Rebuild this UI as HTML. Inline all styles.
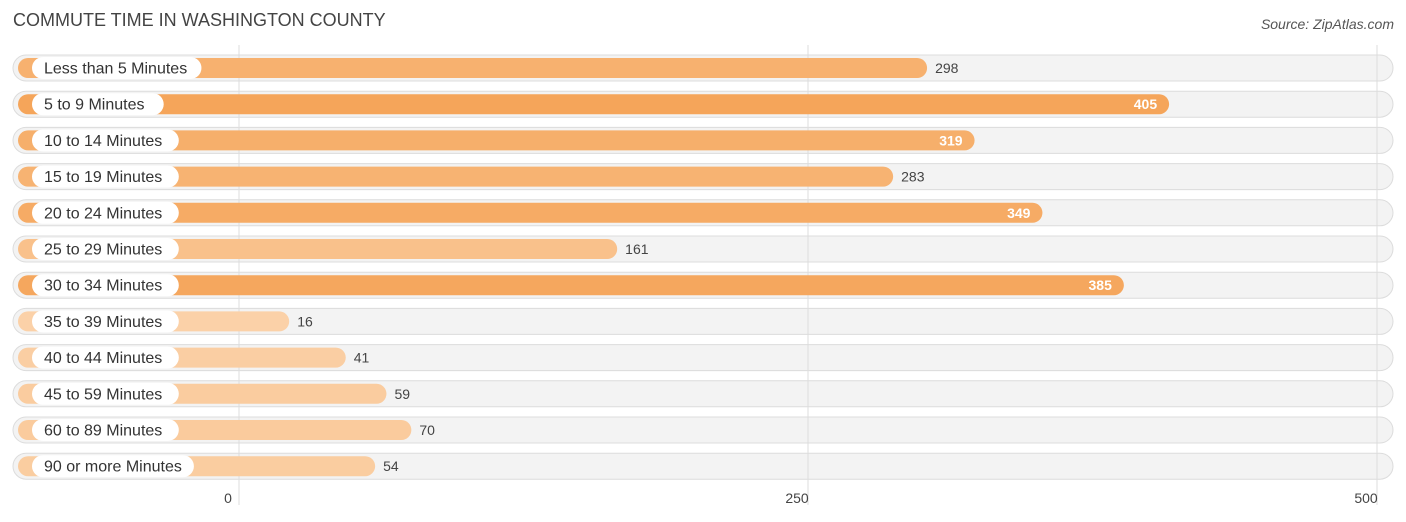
<!DOCTYPE html>
<html><head><meta charset="utf-8"><style>
body{margin:0;width:1406px;height:522px;background:#fff;font-family:"Liberation Sans",sans-serif;overflow:hidden;position:relative}
.t{position:absolute;left:13px;top:10px;font-size:18px;color:#444}
.s{position:absolute;right:12px;top:16px;font-size:14px;font-style:italic;color:#555}
</style></head><body>
<div class="t">COMMUTE TIME IN WASHINGTON COUNTY</div>
<div class="s">Source: ZipAtlas.com</div>
<svg id="c" width="1406" height="522" style="position:absolute;left:0;top:0"></svg>
<script>
const categories=["Less than 5 Minutes","5 to 9 Minutes","10 to 14 Minutes","15 to 19 Minutes","20 to 24 Minutes","25 to 29 Minutes","30 to 34 Minutes","35 to 39 Minutes","40 to 44 Minutes","45 to 59 Minutes","60 to 89 Minutes","90 or more Minutes"];
const values=[298,405,319,283,349,161,385,16,41,59,70,54];
const ticks=[0,250,500];
const tickLabels=["0","250","500"];
const NS="http://www.w3.org/2000/svg";
const svg=document.getElementById('c');
function gx(v){return 239+v*2.276;}
function bx(v){return 253+v*2.262;}
function ry(i){return 68+i*36.2;}
function mk(t,a,p){const e=document.createElementNS(NS,t);for(const k in a)e.setAttribute(k,a[k]);(p||svg).appendChild(e);return e;}
const maxV=Math.max(...values);
function col(r){const a=[251,211,171],b=[245,165,90];return 'rgb('+a.map((c,k)=>Math.round(c+(b[k]-c)*r)).join(',')+')';}
values.forEach((v,i)=>{
 const y=ry(i);
 const tr=mk('rect',{x:13,y:y-13,width:1380,height:26,rx:13,fill:'#f3f3f3',stroke:'#dcdcdc','stroke-width':1});
 
 
});
ticks.forEach((t,i)=>{
 const l=mk('line',{x1:gx(t),x2:gx(t),y1:45,y2:505,stroke:'#ddd','stroke-width':1});
 
 
 const tx=mk('text',{x:gx(t)-11,y:503,'text-anchor':'middle','font-size':14,fill:'#444'});
 tx.textContent=tickLabels[i];
 
 
});
values.forEach((v,i)=>{
 const y=ry(i);
 const g=mk('g',{});
 
 
 const r=v/maxV;
 const b=mk('rect',{x:18,y:y-10,width:bx(v)-18,height:20,rx:10,fill:col(r)},g);
 
 
 const lbl=categories[i];
 const ct=mk('text',{x:44,y:y+5.5,'font-size':16,fill:'#333'},g);
 ct.textContent=lbl;
 
 
 const w=lbl.length*7.55+26;
 const p=mk('rect',{x:32,y:y-11,width:w,height:22,rx:11,fill:'#fff'});
 g.insertBefore(p,ct);
 
 
 const inside=r>0.75;
 const vt=mk('text',{x:inside?bx(v)-12:bx(v)+8,y:y+5,'font-size':14,'text-anchor':inside?'end':'start',fill:inside?'#fff':'#444','font-weight':inside?'bold':'normal'},g);
 vt.textContent=v;
 
 
});
</script>
</body></html>
